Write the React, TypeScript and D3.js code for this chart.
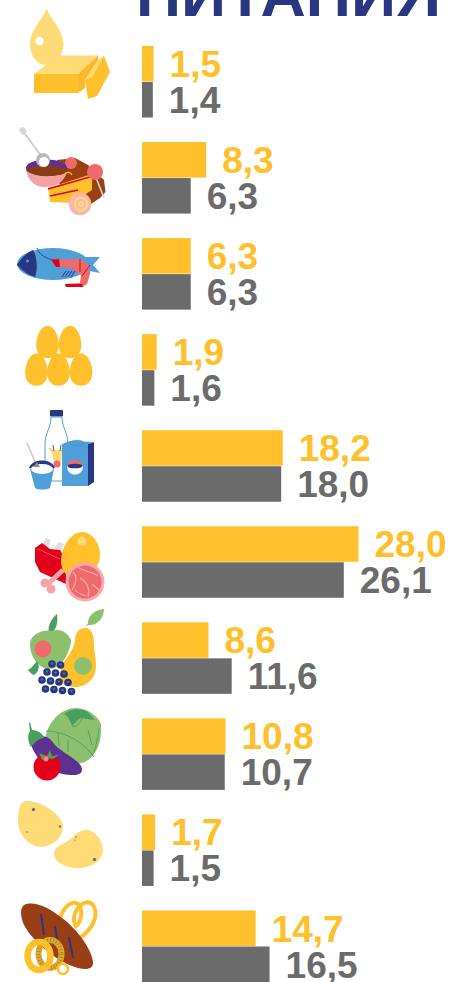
import React from 'react';
import * as d3 from 'd3';

const categories = ['butter', 'sweets', 'fish', 'eggs', 'dairy', 'meat', 'fruit', 'vegetables', 'potatoes', 'bread'];
const valuesYellow = [1.5, 8.3, 6.3, 1.9, 18.2, 28.0, 8.6, 10.8, 1.7, 14.7];
const valuesGray = [1.4, 6.3, 6.3, 1.6, 18.0, 26.1, 11.6, 10.7, 1.5, 16.5];
const title = 'ПИТАНИЯ';

const YELLOW = '#ffc02b';
const GRAY = '#6b6b6b';
const NAVY = '#293682';
const BLUE = '#4f9fd8';
const RED = '#e2001a';
const CORAL = '#ee6a6c';
const GREEN = '#8cc06c';
const DKGREEN = '#47a05f';
const PALE = '#ffdb75';

const x = d3.scaleLinear().domain([0, 28]).range([142, 358.5]);
const rowTop = d3.scalePoint<string>().domain(categories).range([46, 910.5]);
const barH = 35.5;
const fmt = d3.formatLocale({ decimal: ',', thousands: ' ', grouping: [3], currency: ['', ''] }).format('.1f');

// egg outline, wider than tall-ish so neighbours touch like in the picture
const egg = (cx: number, cy: number) =>
  `M${cx},${cy - 16.3} C${cx + 6.5},${cy - 16.3} ${cx + 11.3},${cy - 6} ${cx + 11.3},${cy + 3} C${cx + 11.3},${cy + 11.5} ${cx + 6.5},${cy + 16.3} ${cx},${cy + 16.3} C${cx - 6.5},${cy + 16.3} ${cx - 11.3},${cy + 11.5} ${cx - 11.3},${cy + 3} C${cx - 11.3},${cy - 6} ${cx - 6.5},${cy - 16.3} ${cx},${cy - 16.3}Z`;

function Icons() {
  return (
    <g>
      {/* butter */}
      <path d="M46.7,9 C51,20 63.5,30 63.5,44 C63.5,56 55,65 46,65 C37,65 30,56 30,44 C30,30 42,20 46.7,9Z" fill={PALE} />
      <circle cx={39.5} cy={41} r={4} fill="#fff" />
      <path d="M34,74 L58,55.5 L98,55.5 L78,74Z" fill={PALE} />
      <rect x={34} y={74} width={44} height={19} fill={YELLOW} />
      <path d="M78,74 L98,55.5 L98,60 L85,80 L85,88 L78,93Z" fill="#fdb92a" />
      <path d="M85,80 L98,60 L104,56 L110,72 L97,96 L88,99Z" fill={YELLOW} />
      <path d="M85,80 L98,60 L104,56 L92,77Z" fill={PALE} />

      {/* sweets */}
      <path d="M22,130 L42,157" stroke="#c9c9c9" strokeWidth={1.8} />
      <ellipse cx={23} cy={131} rx={3.2} ry={4} fill="#d8d8d8" transform="rotate(-35 23 131)" />
      <path d="M57,160 L75,158 L88,165 L104,180 L105.5,192 L100,198 L88,206 L60,190Z" fill="#9a4013" />
      <circle cx={71} cy={163} r={6} fill={CORAL} />
      <ellipse cx={46.5} cy={168} rx={20.5} ry={8.5} fill="#5c3191" />
      <path d="M26,170 C30,164 62,164 67,170 C66,178 30,179 26,170Z" fill="#8a3a16" />
      <path d="M26,170 C32,178 60,178 67,172 C64,182 56,187 45,187 C34,187 28,180 26,170Z" fill="#f5a0a5" />
      <path d="M64,175 C66,171 71,172 72,175" stroke={YELLOW} strokeWidth={1.2} fill="none" />
      <circle cx={43} cy={160} r={7} fill="#b9b9b9" />
      <circle cx={44} cy={162} r={5} fill="#fff" />
      <path d="M48,188 L92,174 L92,190 L72,203 L50,202Z" fill={YELLOW} />
      <path d="M48,189 L90,177 M50,196 L78,190" stroke={RED} strokeWidth={1.6} />
      <circle cx={80} cy={204} r={11.3} fill="#f9b3b3" />
      <circle cx={81} cy={204} r={7.5} fill={PALE} />
      <circle cx={81} cy={204} r={5} fill="#f9b3b3" />
      <circle cx={81} cy={204} r={3} fill={PALE} />
      <circle cx={81} cy={204} r={1.2} fill="#f9b3b3" />
      <path d="M95,175 L104,198" stroke="#d5d5d5" strokeWidth={1.6} />
      <circle cx={95} cy={172} r={8} fill={CORAL} />

      {/* fish */}
      <path d="M80,257 L100,257 L93,265 L100,273 L84,270Z" fill={BLUE} />
      <ellipse cx={53} cy={264} rx={36} ry={16} fill={BLUE} />
      <path d="M17,265 C21,258 28,252 33,250 C37,256 38,270 35,277 C28,275 22,270 17,265Z" fill={NAVY} />
      <circle cx={27.5} cy={261} r={1.5} fill={BLUE} />
      <path d="M37,248 C40,256 46,258 53,260" stroke={NAVY} strokeWidth={0.8} fill="none" />
      <path d="M51,259.5 L80,259 C88,262 91,268 90,274 L87,284 L82,287 L66,287 L65,284 L80,283 L81,275 L70,268 L58,267Z" fill={CORAL} />
      <path d="M51,259.5 L59,259 L60,267 L56,267Z" fill={RED} />
      <path d="M65,284 L82,284 L83,287 L66,287Z" fill={RED} />
      <path d="M80,259 V272 M82,276 L90,265" stroke={RED} strokeWidth={1} />
      <path d="M62,277 L66,271 M65,277 L69,271 M68,277 L72,271 M71,277 L75,271" stroke={NAVY} strokeWidth={1} />

      {/* eggs */}
      {[[47.5, 342], [70, 342], [36.5, 369.5], [58.5, 369.5], [81, 369.5]].map((d, i) => (
        <path key={i} d={egg(d[0], d[1])} fill={YELLOW} />
      ))}

      {/* dairy */}
      <rect x={50} y={410} width={13} height={6.5} rx={1} fill={NAVY} />
      <path d="M51,417 L62,417 C62,428 68,432 68,445 L68,481 L45,481 L45,445 C45,432 51,428 51,417Z" fill="#fff" stroke={BLUE} strokeWidth={1} />
      <path d="M51,450 L62,450 L61,462 C60,468 55,468 54,462Z" fill={PALE} />
      <circle cx={57} cy={464} r={3.5} fill={CORAL} />
      <path d="M49,448 L53,451 M65,447 L61,451" stroke={YELLOW} strokeWidth={1.2} />
      <path d="M53,445 L54,451 M61,445 L60,451" stroke={NAVY} strokeWidth={0.8} />
      <path d="M27,443 L36,464" stroke="#c9c9c9" strokeWidth={1.6} />
      <path d="M30,469 C31,462 52,462 54,469 L50,488 C46,490 38,490 35,488Z" fill={BLUE} />
      <path d="M29,468 C32,458 52,458 55,468Z" fill={NAVY} />
      <ellipse cx={42} cy={469} rx={11} ry={5} fill="#fff" />
      <path d="M33,467 L37,462 L40,467Z" fill="#8a8a8a" />
      <rect x={62} y={444} width={26} height={42} fill={BLUE} />
      <path d="M88,444 L94,442 L94,482 L88,486Z" fill={NAVY} />
      <path d="M62,444 L70,441 L94,442 L88,444Z" fill={BLUE} />
      <ellipse cx={77} cy={443} rx={7} ry={2.8} fill={BLUE} stroke="#3b86c2" strokeWidth={0.6} />
      <path d="M67,466 C68,458 81,458 83,466Z" fill={CORAL} />
      <path d="M67,466 L83,466 C83,472 79,474.5 75,474.5 C71,474.5 67,472 67,466Z" fill="#fff" />
      <ellipse cx={75} cy={466} rx={7.5} ry={2.3} fill={NAVY} />

      {/* meat */}
      <path d="M42,545 L46,538 L51,540 L48,550Z M54,550 L58,542 L64,544 L60,553Z" fill="#dedede" />
      <path d="M35,548 L42,543 L50,549 L60,550 L66,560 L66,584 L40,572 L35,562Z" fill={RED} />
      <path d="M38,549 L60,559" stroke={CORAL} strokeWidth={0.8} />
      <path d="M82,532 C92,532 100,543 100,555 C100,566 92,575 80,578 C68,580 61,572 61,561 C61,547 71,532 82,532Z" fill={YELLOW} />
      <circle cx={82} cy={541} r={4.5} fill={PALE} />
      <path d="M63,570 L48,584" stroke="#f5a5a8" strokeWidth={5} />
      <circle cx={45} cy={583} r={4.5} fill="#f5a5a8" />
      <circle cx={51} cy={589} r={4.5} fill="#f5a5a8" />
      <circle cx={85} cy={582} r={19.5} fill="#f8a9ab" />
      <circle cx={85} cy={582} r={16.5} fill={CORAL} />
      <path d="M73,572 C78,576 76,584 72,590 M78,567 C84,572 94,572 98,576 M80,578 C88,582 90,590 88,597 M92,584 L99,590 M75,590 C78,594 84,595 86,596" stroke="#f8a9ab" strokeWidth={1.2} fill="none" />

      {/* fruit */}
      <path d="M49,634 C47,625 52,618 57,614 C58,622 57,630 50,634Z" fill={DKGREEN} />
      <path d="M52,631 C60,628 67,632 71,640 C71,650 62,670 48,669 C38,668 30,656 30,644 C30,635 42,629 52,631Z" fill={GREEN} />
      <circle cx={43} cy={649} r={8.5} fill={CORAL} />
      <path d="M28,670 C32,668 35,663 37,661 C40,666 39,672 34,675 C32,675 30,672 28,670Z" fill={DKGREEN} />
      <path d="M87,626 L91,618" stroke={GREEN} strokeWidth={1} />
      <path d="M88,625 C87,615 95,610 104,609 C104,617 98,626 88,625Z" fill={GREEN} />
      <path d="M85,628 C92,628 94,636 94,645 C94,652 96,656 96,666 C96,678 87,687 75,687 C66,687 60,682 60,677 C60,660 74,654 75,640 C75,633 79,628 85,628Z" fill={YELLOW} />
      <circle cx={83} cy={666} r={9} fill={GREEN} />
      {[[52, 664], [60.5, 665], [47, 672], [55.5, 673], [64, 674], [42, 680], [50.5, 681], [59, 682], [68, 682.5], [45.5, 689], [54, 689.5], [62.5, 690.5], [71.5, 691.5]].map((d, i) => (
        <g key={i}>
          <circle cx={d[0]} cy={d[1]} r={3.8} fill={NAVY} />
          <circle cx={d[0]} cy={d[1] - 0.5} r={1.3} fill="#3f6fb5" />
        </g>
      ))}

      {/* vegetables */}
      <path d="M46,735 C50,719 63,708 76,708 C90,708 101,720 101,725 C102,740 98,755 85,762 C75,766 60,765 50,752 C48,745 46,740 46,735Z" fill={GREEN} />
      <path d="M64,714 C70,708 82,708 88,712 L95,720 L80,718 L72,726 C70,720 68,716 64,714Z" fill={DKGREEN} />
      <path d="M46,731 C62,731 82,740 94,757 M72,726 C76,728 80,724 82,718 M58,733 L59,746 M88,730 L92,745 M68,740 L68,752 M99,728 C98,740 95,750 92,756" stroke={DKGREEN} strokeWidth={0.9} fill="none" />
      <path d="M31,745 C40,732 48,735 55,745 C63,753 76,758 81,766 C84,772 80,775 73,775 C58,776 38,765 31,745Z" fill="#5c3191" />
      <path d="M29,723 L30,731 C27,735 28,742 31,747 C36,741 40,738 44,738 C43,733 37,730 32,730 L30,722Z" fill={DKGREEN} />
      <circle cx={47} cy={767} r={13.5} fill={RED} />
      <path d="M39,753 L47,756 L50,750 L52,756 L59,755 L53,759 L47,758 L42,760Z" fill={DKGREEN} />
      <circle cx={46} cy={759} r={2.5} fill="#f08a8a" />

      {/* potatoes */}
      <path d="M25,801 C38,800 56,810 62,822 C66,834 55,846 42,847 C30,847 18,836 18,820 C18,810 20,802 25,801Z" fill={PALE} />
      <path d="M86,830 C95,830 103,840 103,850 C103,860 92,868 78,868 C65,868 54,862 54,853 C54,846 65,844 72,838 C77,833 81,830 86,830Z" fill={PALE} />
      {[[33.5, 809.5, 1.7], [60, 826.5, 1.2], [27, 832, 0.8], [94.5, 859.5, 1.7], [76, 837, 0.8], [75, 840, 0.6]].map((d, i) => (
        <circle key={i} cx={d[0]} cy={d[1]} r={d[2]} fill="#77726a" />
      ))}

      {/* bread */}
      <path d="M60,918 C64,906 72,900 78,904 C83,908 82,922 76,926 C72,920 74,908 84,903 C92,900 97,908 95,918 C93,926 86,934 80,938" fill="none" stroke={YELLOW} strokeWidth={4} />
      <path d="M24,905 C34,900 50,908 62,918 C78,930 92,950 93,962 C94,970 84,971 72,966 C52,958 32,940 24,925 C20,916 20,908 24,905Z" fill="#9a3f15" />
      <path d="M41,914 L44,935 M55,926 L58,945 M69,937 L73,958" stroke={NAVY} strokeWidth={2} />
      <ellipse cx={50} cy={954} rx={11.5} ry={14} fill="none" stroke="#e0a92f" strokeWidth={6} />
      <ellipse cx={50} cy={954} rx={11.5} ry={14} fill="none" stroke="#a8801f" strokeWidth={4} strokeDasharray="0.8 2.2" />
      <ellipse cx={39} cy={956} rx={11.5} ry={14} fill="none" stroke={YELLOW} strokeWidth={6.5} />
      <circle cx={63} cy={969} r={5} fill="#fff" stroke={YELLOW} strokeWidth={2.5} />
    </g>
  );
}

export default function App() {
  return (
    <svg
      width={449}
      height={982}
      viewBox="0 0 449 982"
      style={{ position: 'absolute', left: 0, top: 0, background: '#fff' }}
      fontFamily="'Liberation Sans', Arial, sans-serif"
    >
      <text x={136} y={16} fontSize={61} fontWeight={700} fill={NAVY} textLength={305} lengthAdjust="spacingAndGlyphs">{title}</text>
      <Icons />
      {categories.map((c, i) => {
        const top = rowTop(c) as number;
        return (
          <g key={c}>
            <rect x={x(0)} y={top} width={x(valuesYellow[i]) - x(0)} height={barH} fill={YELLOW} />
            <rect x={x(0)} y={top + barH + 0.5} width={x(valuesGray[i]) - x(0)} height={barH} fill={GRAY} />
            <text x={x(valuesYellow[i]) + 16} y={top + 31} fontSize={37} fontWeight={700} fill={YELLOW}>{fmt(valuesYellow[i])}</text>
            <text x={x(valuesGray[i]) + 16} y={top + 67} fontSize={37} fontWeight={700} fill={GRAY}>{fmt(valuesGray[i])}</text>
          </g>
        );
      })}
    </svg>
  );
}
